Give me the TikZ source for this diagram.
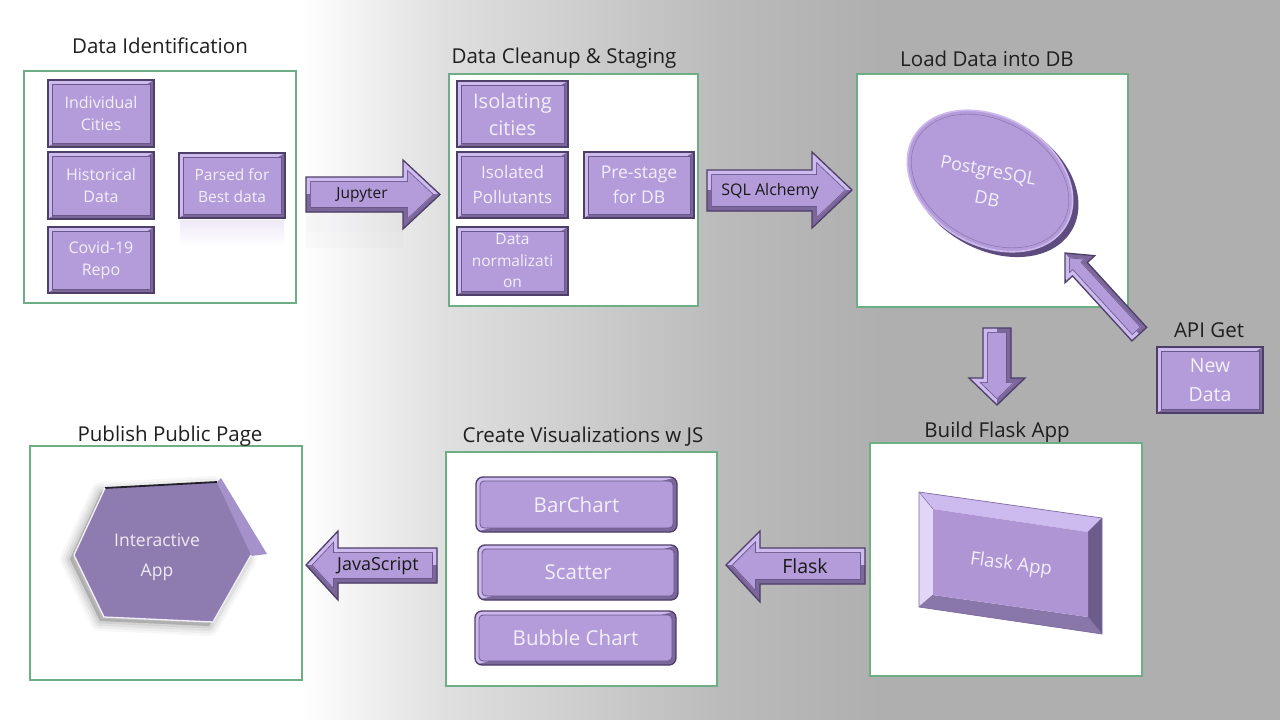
\documentclass[tikz,border=0pt]{standalone}
\usepackage{fontspec}
\setmainfont{Open Sans}
\definecolor{purp}{HTML}{B49CDA}
\definecolor{bvlight}{HTML}{CDBAEE}
\definecolor{bvdark}{HTML}{7B6799}
\definecolor{bvedge}{HTML}{4E3F68}
\definecolor{bvinner}{HTML}{6A578C}
\definecolor{boxgreen}{HTML}{6DAE86}
\definecolor{bgA}{HTML}{E0E0E0}
\definecolor{bgB}{HTML}{BBBBBB}
\definecolor{bgC}{HTML}{AFAFAF}
\definecolor{lbltext}{HTML}{F3EFF9}
\definecolor{hexface}{HTML}{8E7CB0}
\definecolor{hexside}{HTML}{A592CB}
\definecolor{dbrim}{HTML}{5E4C7E}
\definecolor{fright}{HTML}{6C5C8C}
\definecolor{fbottom}{HTML}{8877A8}
\definecolor{fface}{HTML}{B095D4}
\definecolor{fline}{HTML}{7D6A9E}
\newcommand\bvshape[2]{%
 \begin{scope}
  \clip #1;
  \fill[purp] #1;
  \draw[bvinner, line width=9.6pt, line join=miter] #1;
  \draw[bvlight, line width=8pt, line join=miter] #1;
  \begin{scope}\clip #2; \draw[bvdark, line width=8pt, line join=miter] #1; \end{scope}
 \end{scope}
 \draw[bvedge, line width=1.3pt, line join=miter] #1;
}
\tikzset{
 stagebox/.style={draw=boxgreen, line width=1.8pt, fill=white, inner sep=0pt},
 stitle/.style={anchor=base, font=\fontsize{20.5}{24}\selectfont, text=black!88, inner sep=0pt},
 bevelpic/.style={path picture={
   \fill[bvlight, sharp corners] (path picture bounding box.south west) -- (path picture bounding box.north west) -- (path picture bounding box.north east) -- cycle;
   \fill[bvdark, sharp corners] (path picture bounding box.south west) -- (path picture bounding box.south east) -- (path picture bounding box.north east) -- cycle;
   \filldraw[fill=purp, draw=bvinner, line width=0.8pt, rounded corners=#1] ([shift={(4pt,4pt)}]path picture bounding box.south west) rectangle ([shift={(-4pt,-4pt)}]path picture bounding box.north east);
 }},
 pbox/.style 2 args={draw=bvedge, line width=1.3pt, fill=purp, bevelpic=0pt, minimum width=#1, minimum height=#2, inner sep=0pt, align=center, text=lbltext},
 rbox/.style 2 args={pbox={#1}{#2}, rounded corners=7pt, bevelpic=4pt},
 alabel/.style={text=black!90, inner sep=0pt},
 dbtext/.style={rotate=-11, text=lbltext, inner sep=0pt, font=\fontsize{18}{22}\selectfont},
}
\begin{document}
\begin{tikzpicture}[x=1pt,y=-1pt]
\useasboundingbox (0,0) rectangle (1280,720);
% background
\fill[white] (0,0) rectangle (300.5,720);
\shade[left color=white, right color=bgA] (300,0) rectangle (440.5,720);
\shade[left color=bgA, right color=bgB] (440,0) rectangle (720.5,720);
\shade[left color=bgB, right color=bgC] (720,0) rectangle (880.5,720);
\fill[bgC] (880,0) rectangle (1280,720);

% stage boxes
\node[stagebox, minimum width=272pt, minimum height=232pt] (s1) at (160,187) {};
\node[stagebox, minimum width=249pt, minimum height=232pt] (s2) at (573.5,190) {};
\node[stagebox, minimum width=271pt, minimum height=233pt] (s3) at (992.5,190.5) {};
\node[stagebox, minimum width=272pt, minimum height=234pt] (s4) at (166,563) {};
\node[stagebox, minimum width=271pt, minimum height=234pt] (s5) at (581.5,569) {};
\node[stagebox, minimum width=272pt, minimum height=233pt] (s6) at (1006,559.5) {};

% titles
\node[stitle] (t1) at (160,53) {Data Identification};
\node[stitle] (t2) at (564,63) {Data Cleanup \& Staging};
\node[stitle] (t3) at (987,66) {Load Data into DB};
\node[stitle] (t4) at (1209,337) {API Get};
\node[stitle] (t5) at (170,441) {Publish Public Page};
\node[stitle] (t6) at (583,442) {Create Visualizations w JS};
\node[stitle] (t7) at (997,437) {Build Flask App};

% reflections
\shade[top color=purp!22, bottom color=white] (180,220) rectangle (284,246);
\fill[purp!40!gray, opacity=0.06] (306,213) rectangle (403,232);
\fill[purp!40!gray, opacity=0.03] (306,232) rectangle (403,248);

% box 1 items
\node[pbox={106pt}{67pt}, font=\fontsize{16}{22}\selectfont] (cities) at (101,113.5) {Individual\\Cities};
\node[pbox={106pt}{67pt}, font=\fontsize{16}{22}\selectfont] (hist) at (101,185.5) {Historical\\Data};
\node[pbox={106pt}{66pt}, font=\fontsize{16}{22}\selectfont] (covid) at (101,260) {Covid-19\\Repo};
\node[pbox={106pt}{65pt}, font=\fontsize{15.5}{22}\selectfont] (parsed) at (232,185.5) {Parsed for\\Best data};

% box 2 items
\node[pbox={111pt}{66pt}, font=\fontsize{20}{27}\selectfont] (isoc) at (512.5,114) {Isolating\\cities};
\node[pbox={111pt}{66pt}, font=\fontsize{17}{25}\selectfont] (isop) at (512.5,185) {Isolated\\Pollutants};
\node[pbox={111pt}{68pt}, font=\fontsize{15.5}{21.5}\selectfont] (norm) at (512.5,261) {Data\\normalizati\\on};
\node[pbox={110pt}{66pt}, font=\fontsize{17.5}{25}\selectfont] (pre) at (639,185) {Pre-stage\\for DB};

% box 3: database ellipse
\fill[dbrim, rotate around={-30:(994,185)}] (994,185) ellipse [x radius=90, y radius=65];
\filldraw[fill=purp, draw=bvlight, line width=1.6pt, rotate around={-30:(990,181)}] (990,181) ellipse [x radius=88, y radius=64];
\draw[bvinner!50!purp, line width=0.6pt, rotate around={-30:(990,181)}] (990,181) ellipse [x radius=84, y radius=60];
\node[dbtext] (pg1) at (988,172) {PostgreSQL};
\node[dbtext] (pg2) at (987,199) {DB};

% API new data
\node[pbox={106pt}{66pt}, font=\fontsize{19.5}{29}\selectfont] (newd) at (1210,380) {New\\Data};

% box 6: Flask app bevel
\fill[bvlight] (919,492)--(1102,518)--(1088,532)--(933,509)--cycle;
\fill[white!40!bvlight] (919,492)--(933,509)--(933,595)--(919,607)--cycle;
\fill[fright] (1102,518)--(1102,634)--(1088,617)--(1088,532)--cycle;
\fill[fbottom] (919,607)--(933,595)--(1088,617)--(1102,634)--cycle;
\fill[fface] (933,509)--(1088,532)--(1088,617)--(933,595)--cycle;
\draw[fline, line width=0.7pt] (919,492)--(1102,518)--(1102,634)--(919,607)--cycle;
\draw[fline, line width=0.5pt] (919,492)--(933,509) (1102,518)--(1088,532) (1102,634)--(1088,617) (919,607)--(933,595);
\node[rotate=-8, text=lbltext, inner sep=0pt, font=\fontsize{18.5}{22}\selectfont] (fapp) at (1011,565) {Flask App};

% box 5: charts
\node[rbox={201pt}{55pt}, font=\fontsize{20.5}{24}\selectfont] (bar) at (576.5,504.5) {BarChart};
\node[rbox={200pt}{55pt}, font=\fontsize{20.5}{24}\selectfont] (scat) at (578,572.5) {Scatter};
\node[rbox={201pt}{54pt}, font=\fontsize{20.5}{24}\selectfont] (bub) at (575.5,638) {Bubble Chart};

% box 4: hexagon
\foreach \w/\o in {20/0.03,15/0.04,10/0.05,5/0.06}{
 \filldraw[black, opacity=\o, line width=\w pt, line join=round, shift={(-4,4)}] (74,555)--(105,488)--(217,482)--(251,555)--(213,622)--(104,617)--cycle;
}
\fill[hexside] (217,482)--(221,478)--(267,554)--(251,556)--cycle;
\fill[hexface] (74,555)--(105,488)--(217,482)--(251,555)--(213,622)--(104,617)--cycle;
\draw[black!75!hexface, line width=1.8pt] (105,488)--(217,482);
\draw[white!85!purp, line width=1.3pt, line join=round] (105,488)--(74,555)--(104,617)--(213,622)--(251,555);
\node[align=center, text=white!85!hexface, inner sep=0pt, font=\fontsize{17.5}{30}\selectfont] (app) at (157,557) {Interactive\\App};

% block arrows
\bvshape{(306,177)--(403,177)--(403,160)--(440,194.5)--(403,229)--(403,212)--(306,212)--cycle}{(0,194.5) rectangle (1280,720)}
\node[alabel, font=\fontsize{15.5}{18}\selectfont] (jup) at (362,195) {Jupyter};

\bvshape{(707,170)--(812,170)--(812,152)--(852,190)--(812,228)--(812,211)--(707,211)--cycle}{(0,190) rectangle (1280,720)}
\node[alabel, font=\fontsize{16}{18}\selectfont] (sql) at (770,191) {SQL Alchemy};

\bvshape{(983,328)--(1011,328)--(1011,378)--(1025,378)--(997,405)--(969,378)--(983,378)--cycle}{(997,0) rectangle (1280,720)}

\bvshape{(1065,253)--(1094.7,255.7)--(1087.3,262.5)--(1146.7,327.4)--(1131.9,340.9)--(1072.5,275.9)--(1065.1,282.7)--cycle}{(997.5,179.2)--(1200,400.6)--(1273.8,333.1)--(1071.3,111.7)--cycle}

\bvshape{(726,565)--(760,531)--(760,548)--(865,548)--(865,584)--(760,584)--(760,602)--cycle}{(0,565) rectangle (1280,720)}
\node[alabel, font=\fontsize{19.5}{22}\selectfont] (flask) at (805,566) {Flask};

\bvshape{(306,565)--(338,531)--(338,548)--(437,548)--(437,583)--(338,583)--(338,600)--cycle}{(0,565.5) rectangle (1280,720)}
\node[alabel, font=\fontsize{18}{20}\selectfont] (js) at (378,566) {JavaScript};
\end{tikzpicture}
\end{document}
